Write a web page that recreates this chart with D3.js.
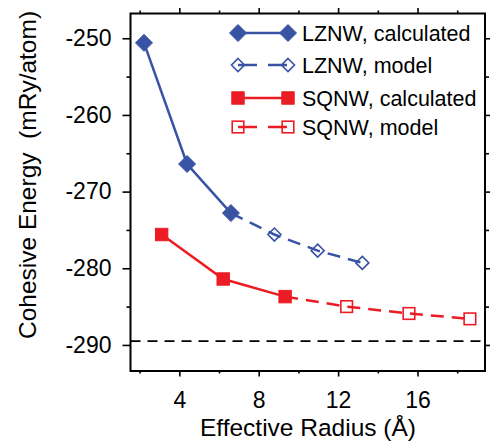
<!DOCTYPE html>
<html lang="en">
<head>
    <meta charset="UTF-8">
    <title>Cohesive Energy</title>
    <script src="https://cdn.jsdelivr.net/npm/d3@7/dist/d3.min.js"></script>
    <style>
        body { margin: 0; background: #fff; }
        text { font-family: "Liberation Sans", Arial, Helvetica, sans-serif; fill: #000; }
    </style>
</head>
<body>
    <div id="chart"></div>
<script>
    // data
    const lznwCalcR = [2.22, 4.39, 6.6]
    const lznwCalcE = [-250.6, -266.4, -272.8]
    const lznwModelR = [6.6, 8.79, 10.97, 13.22]
    const lznwModelE = [-272.8, -275.6, -277.7, -279.3]
    const sqnwCalcR = [3.11, 6.21, 9.33]
    const sqnwCalcE = [-275.6, -281.4, -283.7]
    const sqnwModelR = [9.33, 12.43, 15.57, 18.64]
    const sqnwModelE = [-283.7, -285.0, -285.9, -286.6]
    const bulkE = -289.5

    const xMajor = [4, 8, 12, 16]
    const xMinor = [2, 6, 10, 14, 18]
    const yMajor = [-250, -260, -270, -280, -290]
    const yMinor = [-255, -265, -275, -285]
    const legendLabels = ['LZNW, calculated', 'LZNW, model', 'SQNW, calculated', 'SQNW, model']

    const width = 490, height = 444
    const margin = { left: 130.5, top: 13.5, right: 5, bottom: 73 }
    const gw = width - margin.left - margin.right
    const gh = height - margin.top - margin.bottom
    const blue = '#3953a4', red = '#ec1c24'

    const svg = d3.select('#chart').append('svg').attr('width', width).attr('height', height)
    const g = svg.append('g').attr('transform', `translate(${margin.left},${margin.top})`)

    const x = d3.scaleLinear().domain([1.54, 19.4]).range([0, gw])
    const y = d3.scaleLinear().domain([-246.77, -293.4]).range([0, gh])

    // axes (ticks point outward)
    function styleAxis(sel) {
        sel.select('.domain').remove()
        sel.selectAll('line').attr('stroke', '#000').attr('stroke-width', 1.6)
        sel.selectAll('text').style('font-size', '23px')
    }
    g.append('g').attr('transform', `translate(0,${gh})`)
        .call(d3.axisBottom(x).tickValues(xMajor).tickSize(5.5).tickPadding(15).tickFormat(d3.format('d')))
        .call(styleAxis).attr('font-family', null)
    g.append('g').attr('transform', `translate(0,${gh})`)
        .call(d3.axisBottom(x).tickValues(xMinor).tickSize(2.5).tickFormat(''))
        .call(styleAxis)
    g.append('g').call(d3.axisTop(x).tickValues(xMajor).tickSize(5.5).tickFormat('')).call(styleAxis)
    g.append('g').call(d3.axisTop(x).tickValues(xMinor).tickSize(3).tickFormat('')).call(styleAxis)
    g.append('g')
        .call(d3.axisLeft(y).tickValues(yMajor).tickSize(8).tickPadding(11).tickFormat(d => '-' + Math.abs(d)))
        .call(styleAxis).attr('font-family', null)
    g.append('g').call(d3.axisLeft(y).tickValues(yMinor).tickSize(4).tickFormat('')).call(styleAxis)
    g.append('g').attr('transform', `translate(${gw},0)`)
        .call(d3.axisRight(y).tickValues(yMajor).tickSize(8).tickFormat('')).call(styleAxis)
    g.append('g').attr('transform', `translate(${gw},0)`)
        .call(d3.axisRight(y).tickValues(yMinor).tickSize(4).tickFormat('')).call(styleAxis)

    g.append('rect').attr('width', gw).attr('height', gh)
        .attr('fill', 'none').attr('stroke', '#000').attr('stroke-width', 2)

    // bulk reference line
    g.append('line').attr('x1', 0).attr('x2', gw).attr('y1', y(bulkE)).attr('y2', y(bulkE))
        .attr('stroke', '#000').attr('stroke-width', 1.6).attr('stroke-dasharray', '10,7')

    const line = d3.line().x(d => x(d[0])).y(d => y(d[1]))
    const pts = (r, e) => r.map((v, i) => [v, e[i]])

    const series = [
        { data: pts(lznwModelR, lznwModelE), color: blue, dash: '13,8', shape: 'diamond', filled: false, skipFirst: true },
        { data: pts(sqnwModelR, sqnwModelE), color: red, dash: '13,8', shape: 'square', filled: false, skipFirst: true },
        { data: pts(lznwCalcR, lznwCalcE), color: blue, dash: null, shape: 'diamond', filled: true },
        { data: pts(sqnwCalcR, sqnwCalcE), color: red, dash: null, shape: 'square', filled: true }
    ]

    function marker(sel, shape, filled, color) {
        if (shape === 'diamond') {
            const s = filled ? 8.5 : 6.5
            sel.append('path').attr('d', `M0,${-s}L${s},0L0,${s}L${-s},0Z`)
        } else {
            const s = filled ? 6.2 : 5.8
            sel.append('rect').attr('x', -s).attr('y', -s).attr('width', 2 * s).attr('height', 2 * s)
        }
        sel.selectAll('path,rect')
            .attr('fill', filled ? color : 'none')
            .attr('stroke', color)
            .attr('stroke-width', filled ? 1 : 1.6)
    }

    series.forEach(s => {
        g.append('path').attr('d', line(s.data)).attr('fill', 'none')
            .attr('stroke', s.color).attr('stroke-width', 2.5)
            .attr('stroke-dasharray', s.dash)
        const m = s.skipFirst ? s.data.slice(1) : s.data
        m.forEach(d => {
            const mg = g.append('g').attr('transform', `translate(${x(d[0])},${y(d[1])})`)
            marker(mg, s.shape, s.filled, s.color)
        })
    })

    // legend
    const legendStyle = [
        { color: blue, dash: null, shape: 'diamond', filled: true },
        { color: blue, dash: '19,11', shape: 'diamond', filled: false },
        { color: red, dash: null, shape: 'square', filled: true },
        { color: red, dash: '19,11', shape: 'square', filled: false }
    ]
    const legendY = [33, 65, 98, 127]
    legendLabels.forEach((lab, i) => {
        const st = legendStyle[i]
        const lg = svg.append('g').attr('transform', `translate(238,${legendY[i]})`)
        lg.append('line').attr('x1', 0).attr('x2', 50).attr('stroke', st.color)
            .attr('stroke-width', 2.5).attr('stroke-dasharray', st.dash)
        marker(lg.append('g'), st.shape, st.filled, st.color)
        marker(lg.append('g').attr('transform', 'translate(50,0)'), st.shape, st.filled, st.color)
        lg.append('text').attr('x', 64).attr('y', 7.6).style('font-size', '21.5px').text(lab)
    })

    // axis titles
    svg.append('text').attr('x', 308).attr('y', 436).attr('text-anchor', 'middle')
        .style('font-size', '24.5px').text('Effective Radius (Å)')
    svg.append('text').attr('transform', 'translate(36,175) rotate(-90)').attr('text-anchor', 'middle')
        .style('font-size', '24.5px').style('white-space', 'pre').text('Cohesive Energy  (mRy/atom)')
</script>
</body>
</html>
